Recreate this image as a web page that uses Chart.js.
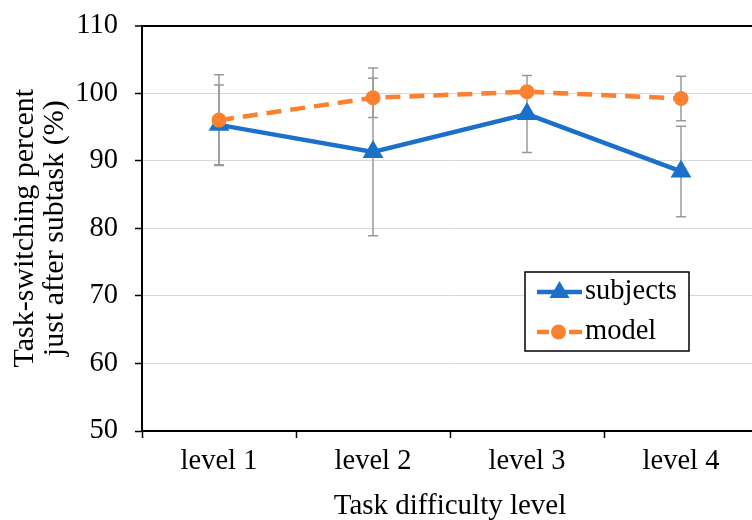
<!DOCTYPE html>
<html lang="en">
  <head>
    <meta charset="UTF-8" />
    <title>Task-switching chart</title>
    <script src="https://cdn.jsdelivr.net/npm/chart.js"></script>
    <style>
      html,
      body {
        margin: 0;
        padding: 0;
        overflow: hidden;
        background: #fff;
      }
      .chart-box {
        width: 770px;
        height: 520px;
      }
    </style>
  </head>
  <body>
    <div class="chart-box">
      <canvas id="myChart"></canvas>
    </div>
    <script>
      const levels = ["level 1", "level 2", "level 3", "level 4"];
      const subjects = [95.3, 91.3, 96.9, 88.4];
      const subjectsErr = [5.9, 12.4, 5.7, 6.7];
      const model = [96.0, 99.3, 100.2, 99.2];
      const modelErr = [6.7, 2.9, 0.3, 3.3];
      const yTicks = [50, 60, 70, 80, 90, 100, 110];

      const FONT = "'Liberation Serif', 'Times New Roman', serif";
      const BLUE = "#1b71c9";
      const ORANGE = "#fb8130";

      // error bars drawn under the lines, through the chart scales
      const errorBars = {
        id: "errorBars",
        beforeDatasetsDraw(chart) {
          const c = chart.ctx;
          const xs = chart.scales.x;
          const ys = chart.scales.y;
          const sets = [
            [subjects, subjectsErr],
            [model, modelErr],
          ];
          c.save();
          c.strokeStyle = "#9a9a9a";
          c.lineWidth = 1.5;
          sets.forEach(function (s) {
            s[0].forEach(function (v, i) {
              const x = xs.getPixelForValue(i);
              const yTop = ys.getPixelForValue(v + s[1][i]);
              const yBot = ys.getPixelForValue(v - s[1][i]);
              c.beginPath();
              c.moveTo(x, yTop);
              c.lineTo(x, yBot);
              c.moveTo(x - 5, yTop);
              c.lineTo(x + 5, yTop);
              c.moveTo(x - 5, yBot);
              c.lineTo(x + 5, yBot);
              c.stroke();
            });
          });
          c.restore();
        },
      };

      // boxed legend inside the plot area
      const boxLegend = {
        id: "boxLegend",
        afterDraw(chart) {
          const c = chart.ctx;
          const left = 525;
          const top = 272;
          c.save();
          c.fillStyle = "#fff";
          c.strokeStyle = "#000";
          c.lineWidth = 1.5;
          c.fillRect(left, top, 164, 79);
          c.strokeRect(left, top, 164, 79);

          // subjects
          let y = top + 20;
          c.strokeStyle = BLUE;
          c.lineWidth = 4.5;
          c.beginPath();
          c.moveTo(left + 12, y);
          c.lineTo(left + 57, y);
          c.stroke();
          c.fillStyle = BLUE;
          c.beginPath();
          c.moveTo(left + 34.5, y - 11);
          c.lineTo(left + 34.5 + 10, y + 6);
          c.lineTo(left + 34.5 - 10, y + 6);
          c.closePath();
          c.fill();

          // model
          y = top + 60;
          c.strokeStyle = ORANGE;
          c.beginPath();
          c.moveTo(left + 12, y);
          c.lineTo(left + 24, y);
          c.moveTo(left + 44, y);
          c.lineTo(left + 57, y);
          c.stroke();
          c.fillStyle = ORANGE;
          c.beginPath();
          c.arc(left + 33.5, y, 7.5, 0, Math.PI * 2);
          c.fill();

          c.fillStyle = "#000";
          c.font = "28.5px " + FONT;
          c.textBaseline = "middle";
          c.textAlign = "left";
          c.fillText("subjects", left + 60, top + 20);
          c.fillText("model", left + 60, top + 60);
          c.restore();
        },
      };

      const ctx = document.getElementById("myChart");
      new Chart(ctx, {
        type: "line",
        data: {
          labels: levels,
          datasets: [
            {
              label: "subjects",
              data: subjects,
              order: 1,
              borderColor: BLUE,
              backgroundColor: BLUE,
              borderWidth: 4.5,
              pointStyle: "triangle",
              pointRadius: 12,
              pointBorderWidth: 0,
              tension: 0,
            },
            {
              label: "model",
              data: model,
              order: 0,
              borderColor: ORANGE,
              backgroundColor: ORANGE,
              borderWidth: 4.5,
              borderDash: [15, 9],
              pointStyle: "circle",
              pointRadius: 7.5,
              pointBorderWidth: 0,
              tension: 0,
            },
          ],
        },
        options: {
          responsive: true,
          maintainAspectRatio: false,
          animation: false,
          layout: { padding: { top: 25.5, right: 8, left: 0, bottom: 0 } },
          plugins: {
            legend: { display: false },
            tooltip: { enabled: false },
          },
          scales: {
            x: {
              offset: true,
              grid: {
                offset: true,
                drawOnChartArea: false,
                drawTicks: true,
                tickLength: 7,
                tickColor: "#000",
                tickWidth: 1.5,
              },
              border: { color: "#000", width: 2 },
              ticks: {
                color: "#000",
                padding: 6,
                maxRotation: 0,
                font: { family: FONT, size: 28.5, lineHeight: 1.2 },
              },
              title: {
                display: true,
                text: "Task difficulty level",
                color: "#000",
                font: { family: FONT, size: 29, lineHeight: 0.95 },
                padding: { top: 0, bottom: 0 },
              },
              afterFit(scale) {
                scale.height = 89;
                scale.paddingLeft = 0;
                scale.paddingRight = 0;
              },
            },
            y: {
              min: 50,
              max: 110,
              afterBuildTicks(scale) {
                scale.ticks = yTicks.map(function (v) {
                  return { value: v };
                });
              },
              grid: {
                color: function (c) {
                  return c.tick && c.tick.value === 110 ? "#000" : "#d9d9d9";
                },
                lineWidth: function (c) {
                  return c.tick && c.tick.value === 110 ? 2 : 1;
                },
                tickColor: "#000",
                tickWidth: 1.5,
                tickLength: 7,
              },
              border: { color: "#000", width: 2 },
              ticks: {
                color: "#000",
                padding: 17,
                font: { family: FONT, size: 28.5 },
              },
              title: {
                display: true,
                text: ["Task-switching percent", "just after subtask (%)"],
                color: "#000",
                font: { family: FONT, size: 30, lineHeight: 1.0 },
                padding: { top: 10, bottom: 0 },
              },
              afterFit(scale) {
                scale.width = 142;
                scale.paddingTop = 0;
                scale.paddingBottom = 0;
              },
            },
          },
        },
        plugins: [errorBars, boxLegend],
      });
    </script>
  </body>
</html>
